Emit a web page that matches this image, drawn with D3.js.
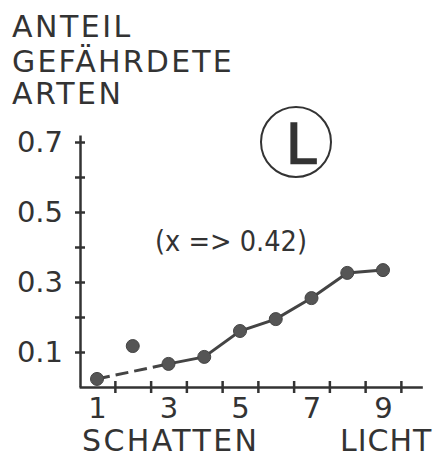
<!DOCTYPE html>
<html lang="de">
<head>
<meta charset="utf-8">
<title>Anteil gefährdete Arten</title>
<script src="https://cdn.jsdelivr.net/npm/d3@7"></script>
<style>
  body { margin: 0; background: #fff; }
  text { font-family: "DejaVu Sans", sans-serif; fill: #333; }
  .axis path, .axis line { stroke: #333; stroke-width: 2.5px; }
  .axis text { font-size: 29px; fill: #333; }
</style>
</head>
<body>
<script>
// light value (1 = Schatten ... 9 = Licht) and share of endangered species
var lightValues = [1, 2, 3, 4, 5, 6, 7, 8, 9];
var shares = [0.023, 0.117, 0.066, 0.086, 0.16, 0.194, 0.254, 0.326, 0.334];
var yTicks = [0.1, 0.2, 0.3, 0.4, 0.5, 0.6, 0.7];
var yLabels = [0.1, 0.3, 0.5, 0.7];
var xTicks = [1.5, 2.5, 3.5, 4.5, 5.5, 6.5, 7.5, 8.5, 9.5];
var xLabels = [1, 3, 5, 7, 9];
var titleLines = ["ANTEIL", "GEFÄHRDETE", "ARTEN"];

var w = 438, h = 459;
var svg = d3.select("body").append("svg")
  .attr("width", w)
  .attr("height", h);

var xScale = d3.scaleLinear().domain([1, 9]).range([97, 383]);
var yScale = d3.scaleLinear().domain([0, 0.72]).range([387, 135]);

var points = lightValues.map(function(d, i) { return [d, shares[i]]; });

// title
svg.append("g").selectAll("text")
  .data(titleLines)
  .enter().append("text")
  .attr("x", 12)
  .attr("y", function(d, i) { return [37, 72, 104][i]; })
  .attr("font-size", 30)
  .attr("letter-spacing", function(d) { return d.length > 6 ? 2.2 : 2.5; })
  .text(function(d) { return d; });

// y axis
var yAxis = d3.axisLeft(yScale)
  .tickValues(yTicks)
  .tickSizeOuter(0)
  .tickSizeInner(5)
  .tickPadding(12)
  .tickFormat(function(d) { return yLabels.indexOf(d) >= 0 ? d3.format(".1f")(d) : ""; });

var gy = svg.append("g")
  .attr("class", "axis")
  .attr("transform", "translate(80,0)")
  .call(yAxis);
gy.selectAll(".tick line").attr("x1", 5).attr("x2", -5);

// x axis (ticks between the classes)
var xAxisScale = xScale.copy().domain([0.5, 10.1]).range([xScale(0.5), xScale(10.1)]);
var xAxis = d3.axisBottom(xAxisScale)
  .tickValues(xTicks)
  .tickSizeOuter(0)
  .tickSizeInner(6)
  .tickFormat("");

var gx = svg.append("g")
  .attr("class", "axis")
  .attr("transform", "translate(0,387)")
  .call(xAxis);
gx.selectAll(".tick line").attr("y1", -6).attr("y2", 6);

// x labels
var gxl = svg.append("g")
  .attr("class", "axis")
  .attr("transform", "translate(0,387)")
  .call(d3.axisBottom(xScale).tickValues(xLabels).tickSize(0).tickPadding(10));
gxl.select(".domain").remove();
gxl.selectAll("text").attr("font-size", 30);

svg.append("text")
  .attr("x", 82).attr("y", 451)
  .attr("font-size", 30)
  .attr("letter-spacing", 2.4)
  .text("SCHATTEN");
svg.append("text")
  .attr("x", 340).attr("y", 451)
  .attr("font-size", 30)
  .attr("letter-spacing", 1)
  .text("LICHT");

// dashed connection from class 1 to class 3, solid from 3 onwards
var line = d3.line()
  .x(function(d) { return xScale(d[0]); })
  .y(function(d) { return yScale(d[1]); });

svg.append("path")
  .datum([points[0], points[2]])
  .attr("d", line)
  .attr("fill", "none")
  .attr("stroke", "#444")
  .attr("stroke-width", 3)
  .attr("stroke-dasharray", "13,6");

svg.append("path")
  .datum(points.slice(2))
  .attr("d", line)
  .attr("fill", "none")
  .attr("stroke", "#444")
  .attr("stroke-width", 3);

svg.selectAll("circle.pt")
  .data(points)
  .enter().append("circle")
  .attr("class", "pt")
  .attr("cx", function(d) { return xScale(d[0]); })
  .attr("cy", function(d) { return yScale(d[1]); })
  .attr("r", 6.5)
  .attr("fill", "#555")
  .attr("stroke", "#444")
  .attr("stroke-width", 1);

// annotation
svg.append("text")
  .attr("x", 231).attr("y", 251)
  .attr("text-anchor", "middle")
  .attr("font-size", 28)
  .attr("textLength", 152)
  .attr("lengthAdjust", "spacingAndGlyphs")
  .text("(x => 0.42)");

// circled L
svg.append("circle")
  .attr("cx", 296).attr("cy", 142).attr("r", 35)
  .attr("fill", "none")
  .attr("stroke", "#333")
  .attr("stroke-width", 2);
svg.append("text")
  .attr("x", 301).attr("y", 163)
  .attr("text-anchor", "middle")
  .attr("font-size", 55)
  .attr("stroke", "#333")
  .attr("stroke-width", 1.5)
  .text("L");
</script>
</body>
</html>
